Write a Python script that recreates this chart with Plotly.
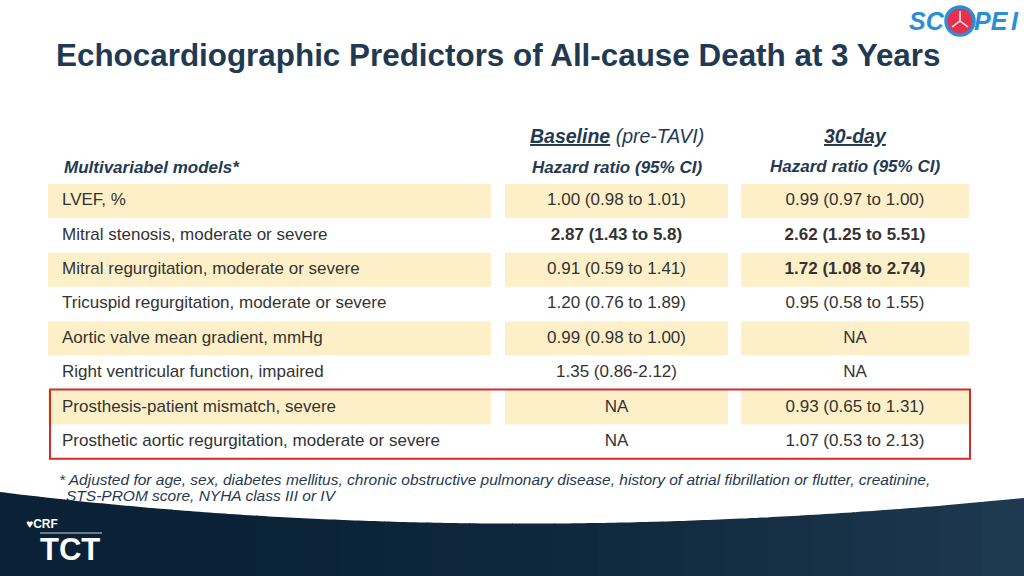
import plotly.graph_objects as go

# table content
predictors = [
    "LVEF, %",
    "Mitral stenosis, moderate or severe",
    "Mitral regurgitation, moderate or severe",
    "Tricuspid regurgitation, moderate or severe",
    "Aortic valve mean gradient, mmHg",
    "Right ventricular function, impaired",
    "Prosthesis-patient mismatch, severe",
    "Prosthetic aortic regurgitation, moderate or severe",
]
baseline_hr = [
    "1.00 (0.98 to 1.01)", "2.87 (1.43 to 5.8)", "0.91 (0.59 to 1.41)", "1.20 (0.76 to 1.89)",
    "0.99 (0.98 to 1.00)", "1.35 (0.86-2.12)", "NA", "NA",
]
day30_hr = [
    "0.99 (0.97 to 1.00)", "2.62 (1.25 to 5.51)", "1.72 (1.08 to 2.74)", "0.95 (0.58 to 1.55)",
    "NA", "NA", "0.93 (0.65 to 1.31)", "1.07 (0.53 to 2.13)",
]
baseline_bold = [False, True, False, False, False, False, False, False]
day30_bold = [False, True, True, False, False, False, False, False]
highlighted_rows = [6, 7]

title = "Echocardiographic Predictors of All-cause Death at 3 Years"
footnote_1 = ("* Adjusted for age, sex, diabetes mellitus, chronic obstructive pulmonary disease, "
              "history of atrial fibrillation or flutter, creatinine,")
footnote_2 = "STS-PROM score, NYHA class III or IV"

NAVY = "#1f3a52"
TXT = "#333333"
CREAM = "#fdf0c9"
FONT = "Liberation Sans, Arial, sans-serif"
FS = 17

ROW0 = 201
ROWH = 34.4
row_y = [ROW0 + i * ROWH for i in range(len(predictors))]

# column geometry (pixel coords)
cols = [(48, 491), (505, 728), (741, 969)]
label_x = 62
base_x = (cols[1][0] + cols[1][1]) / 2
d30_x = (cols[2][0] + cols[2][1]) / 2

fig = go.Figure()

shapes = []
for i, y in enumerate(row_y):
    if i % 2 == 0:
        for x0, x1 in cols:
            shapes.append(dict(type="rect", xref="x", yref="y", x0=x0, x1=x1,
                               y0=y - 17, y1=y + 17, fillcolor=CREAM, line_width=0, layer="below"))

# red box around highlighted rows
shapes.append(dict(type="rect", xref="x", yref="y", x0=50, x1=970,
                   y0=row_y[highlighted_rows[0]] - 18, y1=row_y[highlighted_rows[-1]] + 17,
                   line=dict(color="#d42a2a", width=2), fillcolor="rgba(0,0,0,0)"))


# bottom dark band: quadratic curve top, gradient left->right made of strips
def band_top(t):
    p0, p1, p2 = (0, 492), (480, 552), (1024, 498)
    x = (1 - t) ** 2 * p0[0] + 2 * (1 - t) * t * p1[0] + t ** 2 * p2[0]
    y = (1 - t) ** 2 * p0[1] + 2 * (1 - t) * t * p1[1] + t ** 2 * p2[1]
    return x, y


curve = [band_top(k / 200) for k in range(201)]
c0 = (11, 34, 54)
c1 = (30, 58, 80)
nstrips = 24
for s in range(nstrips):
    xa, xb = 1024 * s / nstrips, 1024 * (s + 1) / nstrips + 1
    pts = [(x, y) for x, y in curve if xa <= x <= xb]
    f = (s / (nstrips - 1)) ** 2.2
    col = "rgb({},{},{})".format(*[int(a + (b - a) * f) for a, b in zip(c0, c1)])
    top = [(xa, min(curve, key=lambda p: abs(p[0] - xa))[1])] + pts + \
          [(xb, min(curve, key=lambda p: abs(p[0] - xb))[1])]
    path = "M " + " L ".join(f"{x:.1f},{y:.1f}" for x, y in top) + f" L {xb:.1f},576 L {xa:.1f},576 Z"
    shapes.append(dict(type="path", xref="x", yref="y", path=path,
                       fillcolor=col, line_width=0, layer="below"))

# CRF underline
shapes.append(dict(type="line", xref="x", yref="y", x0=40, x1=102, y0=533, y1=533,
                   line=dict(color="#c9d3dc", width=1)))
# SCOPE I logo circle
shapes.append(dict(type="circle", xref="x", yref="y", x0=946, x1=974, y0=7, y1=35,
                   fillcolor="#e8304a", line=dict(color="#2a8fd6", width=3.5)))
for ang in [(960, 21, 960, 11), (960, 21, 952, 27), (960, 21, 968, 27)]:
    shapes.append(dict(type="line", xref="x", yref="y", x0=ang[0], y0=ang[1], x1=ang[2], y1=ang[3],
                       line=dict(color="white", width=1.5)))

fig.add_trace(go.Scatter(
    x=[label_x] * len(predictors), y=row_y, text=predictors, mode="text",
    textposition="middle right", textfont=dict(family=FONT, size=FS, color=TXT),
    hoverinfo="skip", showlegend=False))
fig.add_trace(go.Scatter(
    x=[base_x] * len(baseline_hr), y=row_y,
    text=[f"<b>{t}</b>" if b else t for t, b in zip(baseline_hr, baseline_bold)],
    mode="text", textposition="middle center",
    textfont=dict(family=FONT, size=FS, color=TXT), hoverinfo="skip", showlegend=False))
fig.add_trace(go.Scatter(
    x=[d30_x] * len(day30_hr), y=row_y,
    text=[f"<b>{t}</b>" if b else t for t, b in zip(day30_hr, day30_bold)],
    mode="text", textposition="middle center",
    textfont=dict(family=FONT, size=FS, color=TXT), hoverinfo="skip", showlegend=False))

annotations = [
    dict(x=54, y=55, text=f"<b>{title}</b>", xanchor="left", yanchor="middle",
         font=dict(family=FONT, size=31.4, color=NAVY)),
    dict(x=62, y=167, text="<b><i>Multivariabel models*</i></b>", xanchor="left", yanchor="middle",
         font=dict(family=FONT, size=FS, color=NAVY)),
    dict(x=base_x, y=136, text="<b><i><u>Baseline</u></i></b><i> (pre-TAVI)</i>", xanchor="center",
         yanchor="middle", font=dict(family=FONT, size=19.5, color=NAVY)),
    dict(x=base_x, y=167, text="<b><i>Hazard ratio (95% CI)</i></b>", xanchor="center", yanchor="middle",
         font=dict(family=FONT, size=FS, color=NAVY)),
    dict(x=d30_x, y=136, text="<b><i><u>30-day</u></i></b>", xanchor="center", yanchor="middle",
         font=dict(family=FONT, size=19.5, color=NAVY)),
    dict(x=d30_x, y=166, text="<b><i>Hazard ratio (95% CI)</i></b>", xanchor="center", yanchor="middle",
         font=dict(family=FONT, size=FS, color=NAVY)),
    dict(x=57, y=479, text=f"<i>{footnote_1}</i>", xanchor="left", yanchor="middle",
         font=dict(family=FONT, size=15.5, color=NAVY)),
    dict(x=64, y=495, text=f"<i>{footnote_2}</i>", xanchor="left", yanchor="middle",
         font=dict(family=FONT, size=15.5, color=NAVY)),
    # logos
    dict(x=947, y=21, text="<b><i>SC</i></b>", xanchor="right", yanchor="middle",
         font=dict(family=FONT, size=25, color="#2a8fd6")),
    dict(x=972, y=21, text="<b><i>PE</i></b>", xanchor="left", yanchor="middle",
         font=dict(family=FONT, size=25, color="#2a8fd6")),
    dict(x=1009, y=21, text="<b><i>I</i></b>", xanchor="left", yanchor="middle",
         font=dict(family=FONT, size=25, color="#2a8fd6")),
    dict(x=38, y=549, text="<b>TCT</b>", xanchor="left", yanchor="middle",
         font=dict(family=FONT, size=31, color="white")),
    dict(x=24, y=524, text="♥<b>CRF</b>", xanchor="left", yanchor="middle",
         font=dict(family=FONT, size=12, color="white")),
]
for a in annotations:
    a.update(xref="x", yref="y", showarrow=False)

fig.update_layout(
    width=1024, height=576,
    margin=dict(l=0, r=0, t=0, b=0),
    paper_bgcolor="white", plot_bgcolor="white",
    xaxis=dict(range=[0, 1024], visible=False, fixedrange=True),
    yaxis=dict(range=[576, 0], visible=False, fixedrange=True),
    shapes=shapes, annotations=annotations,
)

fig.write_html("out.html", config={"displayModeBar": False},
               post_script="document.body.style.margin='0px';document.body.style.overflow='hidden';")
